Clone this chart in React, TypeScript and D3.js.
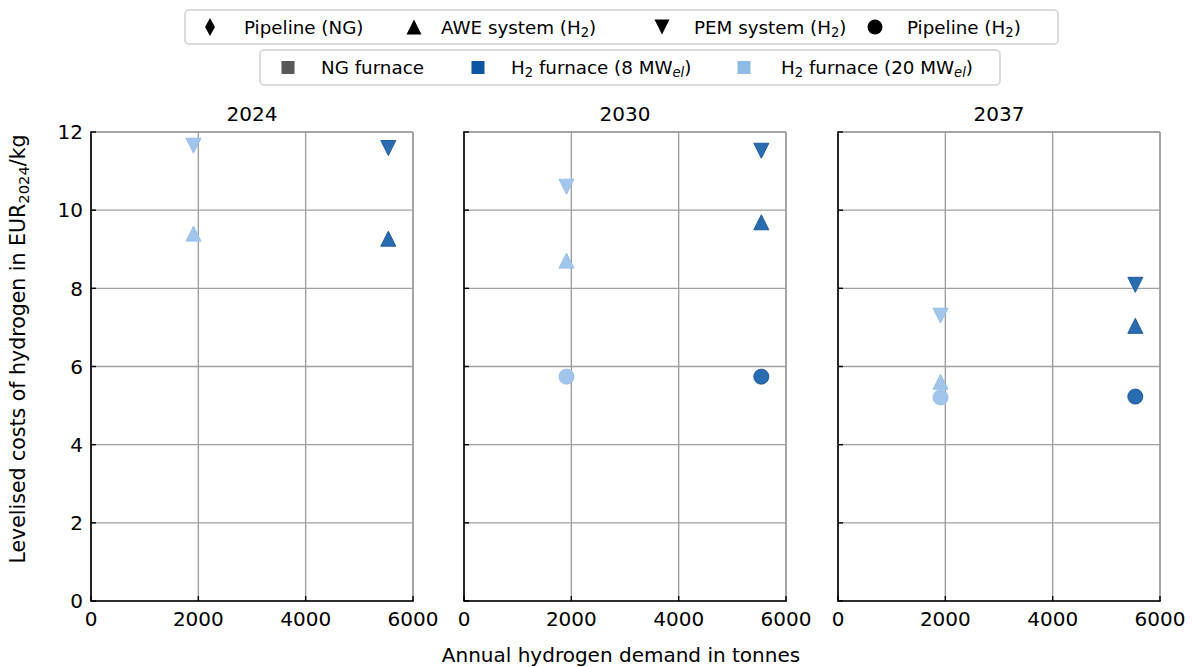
import React from "react";
import * as d3 from "d3";

// panels (years) and x positions of the two furnace sizes
const years = ["2024", "2030", "2037"];
const demand8 = 5540; // tonnes, H2 furnace 8 MWel
const demand20 = 1910; // tonnes, H2 furnace 20 MWel

// levelised costs EUR2024/kg, per year; null = not shown
const pem8 = [11.59, 11.52, 8.09];
const awe8 = [9.27, 9.69, 7.04];
const pipe8 = [null, 5.74, 5.23];
const pem20 = [11.65, 10.6, 7.3];
const awe20 = [9.4, 8.71, 5.61];
const pipe20 = [null, 5.74, 5.21];

const xTicks = [0, 2000, 4000, 6000];
const yTicks = [0, 2, 4, 6, 8, 10, 12];

const dark = "#2a6cb0";
const darkEdge = "#1d5c9e";
const light = "#a2c6eb";
const lightEdge = "#98bfe8";

const FONT = "DejaVu Sans, sans-serif";

type Shape = "up" | "down" | "circle" | "diamond" | "square";

function Marker({ shape, x, y, s, fill, stroke }: { shape: Shape; x: number; y: number; s: number; fill: string; stroke?: string }) {
  const h = s / 2;
  if (shape === "circle") return <circle cx={x} cy={y} r={h} fill={fill} stroke={stroke} strokeWidth={1} />;
  if (shape === "square") return <rect x={x - h} y={y - h} width={s} height={s} fill={fill} />;
  let pts = "";
  if (shape === "up") pts = `${x},${y - h} ${x - h},${y + h} ${x + h},${y + h}`;
  if (shape === "down") pts = `${x},${y + h} ${x - h},${y - h} ${x + h},${y - h}`;
  if (shape === "diamond") pts = `${x},${y - h} ${x - h * 0.55},${y} ${x},${y + h} ${x + h * 0.55},${y}`;
  return <polygon points={pts} fill={fill} stroke={stroke} strokeWidth={1} strokeLinejoin="miter" />;
}

const Sub = ({ t, italic }: { t: string; italic?: boolean }) => (
  <tspan baselineShift="-25%" fontSize="72%" fontStyle={italic ? "italic" : undefined}>{t}</tspan>
);

export default function App() {
  const W = 1195, H = 667;
  const panelX = [91, 464, 838];
  const pw = 322;
  const y = d3.scaleLinear().domain([0, 12]).range([601, 132]);

  const series: { vals: (number | null)[]; shape: Shape; x: number; fill: string; edge: string }[] = [
    { vals: pem20, shape: "down", x: demand20, fill: light, edge: lightEdge },
    { vals: awe20, shape: "up", x: demand20, fill: light, edge: lightEdge },
    { vals: pipe20, shape: "circle", x: demand20, fill: light, edge: lightEdge },
    { vals: pem8, shape: "down", x: demand8, fill: dark, edge: darkEdge },
    { vals: awe8, shape: "up", x: demand8, fill: dark, edge: darkEdge },
    { vals: pipe8, shape: "circle", x: demand8, fill: dark, edge: darkEdge },
  ];

  const fs = 20;
  const lfs = 18.3;

  return (
    <svg width={W} height={H} style={{ position: "absolute", left: 0, top: 0 }} fontFamily={FONT}>
      <rect width={W} height={H} fill="#fff" />
      {years.map((yr, pi) => {
        const x0 = panelX[pi];
        const x = d3.scaleLinear().domain([0, 6000]).range([x0, x0 + pw]);
        return (
          <g key={yr}>
            {/* grid */}
            {xTicks.map((t) => (
              <line key={"gx" + t} x1={x(t)} x2={x(t)} y1={y(0)} y2={y(12)} stroke="#a0a0a0" strokeWidth={1.4} />
            ))}
            {yTicks.map((t) => (
              <line key={"gy" + t} x1={x(0)} x2={x(6000)} y1={y(t)} y2={y(t)} stroke="#a0a0a0" strokeWidth={1.4} />
            ))}
            {/* spines */}
            <line x1={x(0)} x2={x(6000)} y1={y(12)} y2={y(12)} stroke="#a0a0a0" strokeWidth={1.6} />
            <line x1={x(6000)} x2={x(6000)} y1={y(12)} y2={y(0)} stroke="#a0a0a0" strokeWidth={1.6} />
            <line x1={x(0)} x2={x(0)} y1={y(12) - 0.8} y2={y(0) + 0.8} stroke="#000" strokeWidth={1.6} />
            <line x1={x(0)} x2={x(6000) + 0.8} y1={y(0)} y2={y(0)} stroke="#000" strokeWidth={1.6} />
            {/* ticks (inward) */}
            {yTicks.map((t) => (
              <line key={"ty" + t} x1={x(0)} x2={x(0) + 5} y1={y(t)} y2={y(t)} stroke="#000" strokeWidth={1.4} />
            ))}
            {xTicks.map((t) => (
              <line key={"tx" + t} x1={x(t)} x2={x(t)} y1={y(0)} y2={y(0) - 5} stroke="#000" strokeWidth={1.4} />
            ))}
            {xTicks.map((t) => (
              <text key={"lx" + t} x={x(t)} y={625.5} textAnchor="middle" fontSize={fs}>{t}</text>
            ))}
            {pi === 0 &&
              yTicks.map((t) => (
                <text key={"ly" + t} x={x(0) - 8} y={y(t) + 7.2} textAnchor="end" fontSize={fs}>{t}</text>
              ))}
            <text x={x(3000)} y={121} textAnchor="middle" fontSize={fs}>{yr}</text>
            {/* markers */}
            {series.map((s, si) =>
              s.vals[pi] == null ? null : (
                <Marker key={"m" + si} shape={s.shape} x={x(s.x)} y={y(s.vals[pi] as number)} s={15} fill={s.fill} stroke={s.edge} />
              )
            )}
          </g>
        );
      })}

      {/* axis labels */}
      <text x={621} y={661.5} textAnchor="middle" fontSize={fs}>Annual hydrogen demand in tonnes</text>
      <text transform="translate(25,349) rotate(-90)" textAnchor="middle" fontSize={20.5}>
        Levelised costs of hydrogen in EUR<Sub t="2024" />/kg
      </text>

      {/* legend 1: technology */}
      <rect x={185} y={10} width={873} height={34} rx={4} fill="#fff" stroke="#d0d0d0" strokeWidth={1.5} />
      <Marker shape="diamond" x={210} y={27} s={18} fill="#000" />
      <text x={244} y={33.5} fontSize={lfs}>Pipeline (NG)</text>
      <Marker shape="up" x={414} y={27} s={15} fill="#000" />
      <text x={441} y={33.5} fontSize={lfs}>AWE system (H<Sub t="2" />)</text>
      <Marker shape="down" x={662} y={27} s={15} fill="#000" />
      <text x={694} y={33.5} fontSize={lfs}>PEM system (H<Sub t="2" />)</text>
      <Marker shape="circle" x={875} y={27} s={15} fill="#000" />
      <text x={907} y={33.5} fontSize={lfs}>Pipeline (H<Sub t="2" />)</text>

      {/* legend 2: furnace */}
      <rect x={260} y={50} width={740} height={35} rx={4} fill="#fff" stroke="#d0d0d0" strokeWidth={1.5} />
      <Marker shape="square" x={288} y={67.5} s={13} fill="#595959" />
      <text x={321} y={74} fontSize={lfs}>NG furnace</text>
      <Marker shape="square" x={478} y={67.5} s={13} fill="#0b57a3" />
      <text x={511} y={74} fontSize={lfs}>
        H<Sub t="2" /> furnace (8 MW<Sub t="el" italic />)
      </text>
      <Marker shape="square" x={744} y={67.5} s={13} fill="#8fbbe6" />
      <text x={781} y={74} fontSize={lfs}>
        H<Sub t="2" /> furnace (20 MW<Sub t="el" italic />)
      </text>
    </svg>
  );
}
